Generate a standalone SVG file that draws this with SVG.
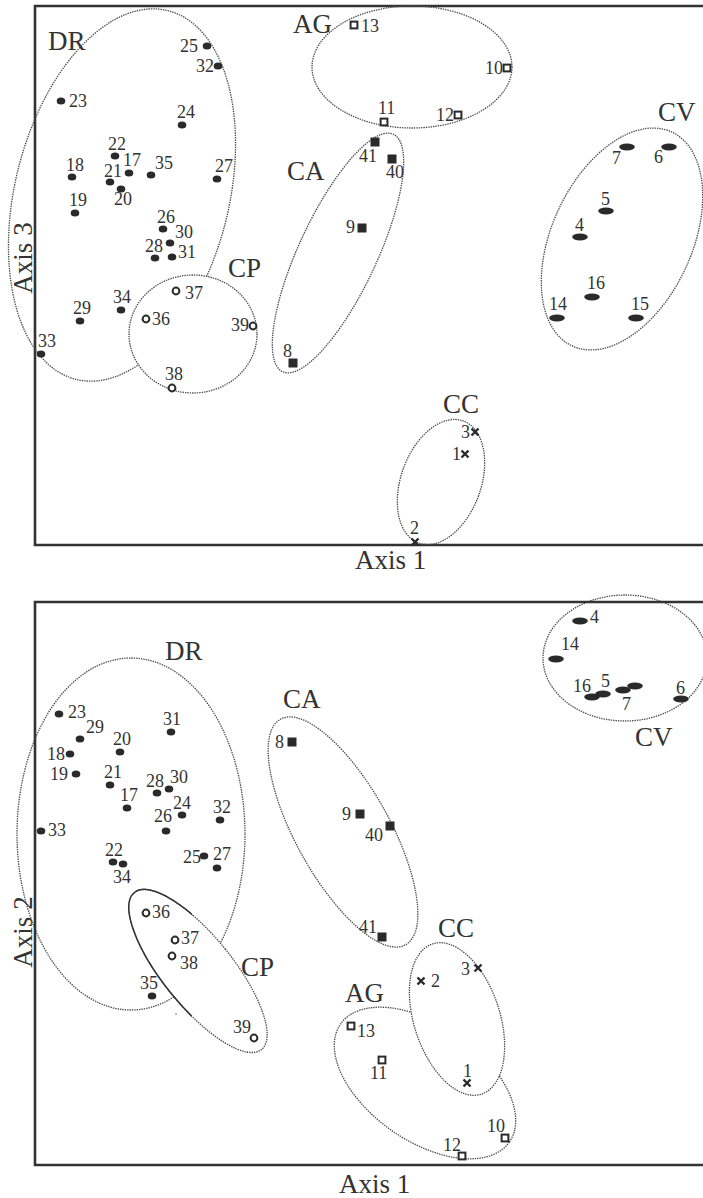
<svg xmlns="http://www.w3.org/2000/svg" width="703" height="1198" viewBox="0 0 703 1198">
<style>
text{font-family:"Liberation Serif","Times New Roman",serif;fill:#333}
.n{font-size:18px}
.g{font-size:27px}
.frame{fill:none;stroke:#333;stroke-width:2.6}
.cl{fill:none;stroke:#4a4a4a;stroke-width:1.3;stroke-dasharray:1.4 1}
.clw{fill:#fff;stroke:#4a4a4a;stroke-width:1.3;stroke-dasharray:1.4 1}
.pt{fill:#2a2a2a}
</style>
<defs>
<ellipse id="dot" rx="4.3" ry="3.5" fill="#2a2a2a"/>
<circle id="ring" r="3.4" fill="#fff" stroke="#2a2a2a" stroke-width="2"/>
<rect id="sq" x="-4.5" y="-4.5" width="9" height="9" fill="#2a2a2a"/>
<rect id="osq" x="-3.4" y="-3.4" width="6.8" height="6.8" fill="#fff" stroke="#2a2a2a" stroke-width="2"/>
<path id="xm" d="M-3.5,-3.5L3.5,3.5M-3.5,3.5L3.5,-3.5" stroke="#2a2a2a" stroke-width="2.4" fill="none"/>
<ellipse id="lens" rx="7.8" ry="3.4" fill="#2a2a2a"/>
<clipPath id="drclip"><ellipse cx="131" cy="834" rx="114" ry="176"/></clipPath>
</defs>

<!-- ===== TOP PLOT ===== -->
<g id="top-frame">
<path class="frame" d="M703,6H35V545H703"/>
<text class="g" x="355" y="569">Axis 1</text>
<text class="g" transform="translate(32,258) rotate(-90)" text-anchor="middle">Axis 3</text>
</g>

<g id="top-clusters">
<ellipse id="top-DR-hull" class="cl" cx="122" cy="195" rx="107" ry="190" transform="rotate(14 122 195)"/>
<ellipse id="top-CP-hull" class="clw" cx="193" cy="334" rx="64" ry="59"/>
<ellipse id="top-AG-hull" class="cl" cx="412" cy="67" rx="100" ry="61"/>
<ellipse id="top-CA-hull" class="cl" cx="338" cy="253" rx="39" ry="131" transform="rotate(25 338 253)"/>
<ellipse id="top-CV-hull" class="cl" cx="622" cy="239" rx="70" ry="118" transform="rotate(25 622 239)"/>
<ellipse id="top-CC-hull" class="cl" cx="441" cy="482" rx="40" ry="65" transform="rotate(20 441 482)"/>
<text class="g" x="48" y="50">DR</text>
<text class="g" x="228" y="277">CP</text>
<text class="g" x="293" y="33">AG</text>
<text class="g" x="287" y="180">CA</text>
<text class="g" x="658" y="121">CV</text>
<text class="g" x="443" y="413">CC</text>
</g>

<g id="connectors"></g>

<g id="top-DR">
<g id="t25"><use href="#dot" x="207" y="46"/><text class="n" x="180" y="52">25</text></g>
<g id="t32"><use href="#dot" x="218" y="66"/><text class="n" x="196" y="72">32</text></g>
<g id="t23"><use href="#dot" x="61" y="101"/><text class="n" x="69" y="107">23</text></g>
<g id="t24"><use href="#dot" x="182" y="125"/><text class="n" x="177" y="118">24</text></g>
<g id="t22"><use href="#dot" x="115" y="156"/><text class="n" x="108" y="150">22</text></g>
<g id="t17"><use href="#dot" x="129" y="173"/><text class="n" x="123" y="166">17</text></g>
<g id="t35"><use href="#dot" x="151" y="175"/><text class="n" x="155" y="169">35</text></g>
<g id="t27"><use href="#dot" x="217" y="179"/><text class="n" x="215" y="172">27</text></g>
<g id="t18"><use href="#dot" x="72" y="177"/><text class="n" x="66" y="171">18</text></g>
<g id="t21"><use href="#dot" x="110" y="182"/><text class="n" x="104" y="177">21</text></g>
<g id="t20"><use href="#dot" x="121" y="189"/><text class="n" x="114" y="205">20</text></g>
<g id="t19"><use href="#dot" x="75" y="213"/><text class="n" x="69" y="206">19</text></g>
<g id="t26"><use href="#dot" x="163" y="229"/><text class="n" x="157" y="223">26</text></g>
<g id="t30"><use href="#dot" x="170" y="243"/><text class="n" x="175" y="238">30</text></g>
<g id="t28"><use href="#dot" x="155" y="258"/><text class="n" x="145" y="252">28</text></g>
<g id="t31"><use href="#dot" x="172" y="257"/><text class="n" x="178" y="258">31</text></g>
<g id="t34"><use href="#dot" x="121" y="310"/><text class="n" x="113" y="303">34</text></g>
<g id="t29"><use href="#dot" x="80" y="321"/><text class="n" x="73" y="314">29</text></g>
<g id="t33"><use href="#dot" x="41" y="354"/><text class="n" x="38" y="347">33</text></g>
</g>

<g id="top-CP">
<g id="t37"><use href="#ring" x="176" y="291"/><text class="n" x="185" y="299">37</text></g>
<g id="t36"><use href="#ring" x="146" y="319"/><text class="n" x="152" y="325">36</text></g>
<g id="t39"><use href="#ring" x="253" y="326"/><text class="n" x="231" y="331">39</text></g>
<g id="t38"><use href="#ring" x="172" y="388"/><text class="n" x="165" y="380">38</text></g>
</g>

<g id="top-AG">
<g id="t13"><use href="#osq" x="354" y="25"/><text class="n" x="361" y="32">13</text></g>
<g id="t10"><use href="#osq" x="507" y="68"/><text class="n" x="485" y="74">10</text></g>
<g id="t11"><use href="#osq" x="384" y="122"/><text class="n" x="378" y="114">11</text></g>
<g id="t12"><use href="#osq" x="458" y="115"/><text class="n" x="436" y="121">12</text></g>
</g>

<g id="top-CA">
<g id="t41"><use href="#sq" x="375" y="142"/><text class="n" x="359" y="162">41</text></g>
<g id="t40"><use href="#sq" x="392" y="159"/><text class="n" x="386" y="178">40</text></g>
<g id="t9"><use href="#sq" x="362" y="228"/><text class="n" x="346" y="233">9</text></g>
<g id="t8"><use href="#sq" x="293" y="363"/><text class="n" x="283" y="357">8</text></g>
</g>

<g id="top-CV">
<g id="t7"><use href="#lens" x="627" y="147"/><text class="n" x="612" y="164">7</text></g>
<g id="t6"><use href="#lens" x="669" y="147"/><text class="n" x="654" y="163">6</text></g>
<g id="t5"><use href="#lens" x="606" y="211"/><text class="n" x="601" y="205">5</text></g>
<g id="t4"><use href="#lens" x="580" y="237"/><text class="n" x="575" y="231">4</text></g>
<g id="t16"><use href="#lens" x="592" y="297"/><text class="n" x="587" y="289">16</text></g>
<g id="t14"><use href="#lens" x="557" y="318"/><text class="n" x="549" y="310">14</text></g>
<g id="t15"><use href="#lens" x="636" y="318"/><text class="n" x="631" y="310">15</text></g>
</g>

<g id="top-CC">
<g id="t3"><use href="#xm" x="475" y="432"/><text class="n" x="461" y="438">3</text></g>
<g id="t1"><use href="#xm" x="465" y="454"/><text class="n" x="452" y="460">1</text></g>
<g id="t2"><use href="#xm" x="415" y="542"/><text class="n" x="410" y="534">2</text></g>
</g>

<!-- ===== BOTTOM PLOT ===== -->
<g id="bottom-clusters">
<ellipse id="bot-DR-hull" class="cl" cx="131" cy="834" rx="114" ry="176"/>
<ellipse id="bot-CP-hull" class="clw" cx="198" cy="971" rx="35" ry="101" transform="rotate(-39 198 971)"/>
<ellipse id="bot-CP-solid" fill="none" stroke="#333" stroke-width="1.5" cx="198" cy="971" rx="35" ry="101" transform="rotate(-39 198 971)" clip-path="url(#drclip)"/>
<ellipse id="bot-CA-hull" class="cl" cx="343" cy="832" rx="47" ry="129" transform="rotate(-29 343 832)"/>
<ellipse id="bot-AG-hull" class="cl" cx="425" cy="1083" rx="103" ry="58" transform="rotate(35 425 1083)"/>
<ellipse id="bot-CC-hull" class="clw" cx="457" cy="1019" rx="43" ry="79" transform="rotate(-18 457 1019)"/>
<ellipse id="bot-CV-hull" class="cl" cx="625" cy="658" rx="82" ry="63"/>
<text class="g" x="165" y="660">DR</text>
<text class="g" x="241" y="976">CP</text>
<text class="g" x="283" y="708">CA</text>
<text class="g" x="438" y="937">CC</text>
<text class="g" x="345" y="1002">AG</text>
<text class="g" x="635" y="746">CV</text>
<circle cx="176" cy="1014" r="0.8" fill="#666"/>
</g>

<g id="bottom-frame">
<path class="frame" d="M703,602H35V1165H703"/>
<text class="g" x="339" y="1193">Axis 1</text>
<text class="g" transform="translate(32,932) rotate(-90)" text-anchor="middle">Axis 2</text>
</g>

<g id="bot-DR">
<g id="b23"><use href="#dot" x="59" y="714"/><text class="n" x="68" y="718">23</text></g>
<g id="b29"><use href="#dot" x="80" y="739"/><text class="n" x="86" y="733">29</text></g>
<g id="b20"><use href="#dot" x="120" y="752"/><text class="n" x="113" y="745">20</text></g>
<g id="b31"><use href="#dot" x="171" y="732"/><text class="n" x="163" y="725">31</text></g>
<g id="b18"><use href="#dot" x="70" y="754"/><text class="n" x="47" y="760">18</text></g>
<g id="b19"><use href="#dot" x="76" y="774"/><text class="n" x="50" y="780">19</text></g>
<g id="b21"><use href="#dot" x="110" y="785"/><text class="n" x="104" y="778">21</text></g>
<g id="b28"><use href="#dot" x="157" y="793"/><text class="n" x="146" y="787">28</text></g>
<g id="b30"><use href="#dot" x="169" y="789"/><text class="n" x="170" y="783">30</text></g>
<g id="b17"><use href="#dot" x="127" y="808"/><text class="n" x="120" y="801">17</text></g>
<g id="b24"><use href="#dot" x="182" y="815"/><text class="n" x="173" y="809">24</text></g>
<g id="b32"><use href="#dot" x="220" y="820"/><text class="n" x="213" y="813">32</text></g>
<g id="b26"><use href="#dot" x="166" y="831"/><text class="n" x="154" y="822">26</text></g>
<g id="b33"><use href="#dot" x="41" y="831"/><text class="n" x="48" y="836">33</text></g>
<g id="b22"><use href="#dot" x="113" y="862"/><text class="n" x="105" y="856">22</text></g>
<g id="b34"><use href="#dot" x="123" y="864"/><text class="n" x="113" y="883">34</text></g>
<g id="b25"><use href="#dot" x="204" y="856"/><text class="n" x="183" y="863">25</text></g>
<g id="b27"><use href="#dot" x="217" y="868"/><text class="n" x="213" y="860">27</text></g>
<g id="b35"><use href="#dot" x="152" y="996"/><text class="n" x="140" y="989">35</text></g>
</g>

<g id="bot-CP">
<g id="b36"><use href="#ring" x="146" y="913"/><text class="n" x="152" y="918">36</text></g>
<g id="b37"><use href="#ring" x="175" y="940"/><text class="n" x="181" y="944">37</text></g>
<g id="b38"><use href="#ring" x="172" y="956"/><text class="n" x="180" y="969">38</text></g>
<g id="b39"><use href="#ring" x="254" y="1038"/><text class="n" x="233" y="1033">39</text></g>
</g>

<g id="bot-CA">
<g id="b8"><use href="#sq" x="292" y="742"/><text class="n" x="275" y="748">8</text></g>
<g id="b9"><use href="#sq" x="360" y="814"/><text class="n" x="342" y="820">9</text></g>
<g id="b40"><use href="#sq" x="390" y="826"/><text class="n" x="365" y="841">40</text></g>
<g id="b41"><use href="#sq" x="382" y="937"/><text class="n" x="359" y="933">41</text></g>
</g>

<g id="bot-CC">
<g id="b3"><use href="#xm" x="478" y="968"/><text class="n" x="461" y="975">3</text></g>
<g id="b2"><use href="#xm" x="421" y="981"/><text class="n" x="431" y="987">2</text></g>
<g id="b1"><use href="#xm" x="467" y="1083"/><text class="n" x="463" y="1077">1</text></g>
</g>

<g id="bot-AG">
<g id="b13"><use href="#osq" x="351" y="1026"/><text class="n" x="357" y="1037">13</text></g>
<g id="b11"><use href="#osq" x="382" y="1060"/><text class="n" x="370" y="1079">11</text></g>
<g id="b10"><use href="#osq" x="505" y="1138"/><text class="n" x="487" y="1132">10</text></g>
<g id="b12"><use href="#osq" x="462" y="1156"/><text class="n" x="443" y="1151">12</text></g>
</g>

<g id="bot-CV">
<g id="b4"><use href="#lens" x="580" y="621"/><text class="n" x="590" y="623">4</text></g>
<g id="b14"><use href="#lens" x="556" y="659"/><text class="n" x="561" y="650">14</text></g>
<g id="b16"><use href="#lens" x="592" y="697"/><text class="n" x="573" y="692">16</text></g>
<g id="b5"><use href="#lens" x="603" y="694"/><text class="n" x="601" y="687">5</text></g>
<g id="b15"><use href="#lens" x="635" y="686"/></g>
<g id="b7"><use href="#lens" x="623" y="690"/><text class="n" x="622" y="710">7</text></g>
<g id="b6"><use href="#lens" x="681" y="699"/><text class="n" x="676" y="694">6</text></g>
</g>
</svg>
